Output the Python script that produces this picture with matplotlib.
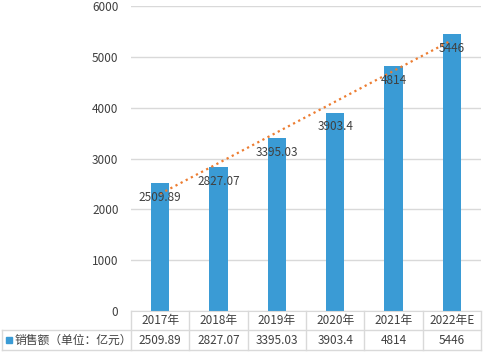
import matplotlib
matplotlib.use("Agg")
import matplotlib.pyplot as plt
import numpy as np

plt.rcParams['font.family'] = ['Noto Sans CJK SC', 'DejaVu Sans']

years = ['2017年', '2018年', '2019年', '2020年', '2021年', '2022年E']
sales = [2509.89, 2827.07, 3395.03, 3903.4, 4814, 5446]
value_text = ['2509.89', '2827.07', '3395.03', '3903.4', '4814', '5446']
series_name = '销售额（单位：亿元）'

bar_color = '#3A9BD5'
grid_color = '#D9D9D9'
text_color = '#404040'

W, H = 484, 353
fig = plt.figure(figsize=(W / 100, H / 100), dpi=100)

# plot area in pixels
left, right, top, bottom = 131, 481, 6, 311
ax = fig.add_axes([left / W, 1 - bottom / H, (right - left) / W, (bottom - top) / H])

x = np.arange(len(years))
ax.bar(x, sales, width=0.31, color=bar_color, zorder=2)

# linear trendline like excel
k, b = np.polyfit(x, sales, 1)
ax.plot(x, k * x + b, color='#ED7D31', linestyle=(0, (1, 1.6)), linewidth=1.6, zorder=3)

for i, v in enumerate(sales):
    ax.annotate(value_text[i], (x[i], v), xytext=(0, -10), textcoords='offset points',
                ha='center', va='center', fontsize=8.5, color=text_color, zorder=4)

ax.set_xlim(-0.5, len(years) - 0.5)
ax.set_ylim(0, 6000)
ax.set_yticks(range(0, 6001, 1000))
ax.tick_params(axis='y', length=0, labelsize=8.5, labelcolor=text_color, pad=9)
ax.set_xticks([])
ax.grid(axis='y', color=grid_color, linewidth=1, zorder=0)
for s in ['left', 'right', 'top']:
    ax.spines[s].set_visible(False)
ax.spines['bottom'].set_color(grid_color)

# data table under the chart
def fx(px):
    return px / W

def fy(py):
    return 1 - py / H

row1, row2, row3 = 311, 330, 350
cell_w = (right - left) / len(years)
line_kw = dict(color=grid_color, linewidth=1)
fig.add_artist(plt.Line2D([fx(2), fx(right)], [fy(row2), fy(row2)], **line_kw))
fig.add_artist(plt.Line2D([fx(2), fx(right)], [fy(row3), fy(row3)], **line_kw))
fig.add_artist(plt.Line2D([fx(2), fx(2)], [fy(row2), fy(row3)], **line_kw))
for i in range(len(years) + 1):
    xp = left + i * cell_w
    fig.add_artist(plt.Line2D([fx(xp), fx(xp)], [fy(row1), fy(row3)], **line_kw))

for i, yr in enumerate(years):
    xc = left + (i + 0.5) * cell_w
    fig.text(fx(xc), fy((row1 + row2) / 2), yr, ha='center', va='center', fontsize=8.5, color=text_color)
    fig.text(fx(xc), fy((row2 + row3) / 2), value_text[i], ha='center', va='center', fontsize=8.5, color=text_color)

fig.add_artist(plt.Rectangle((fx(6), fy(343)), 6 / W, 6 / H, color=bar_color))
fig.text(fx(15), fy((row2 + row3) / 2), series_name, ha='left', va='center', fontsize=8.5, color=text_color)

fig.savefig('out.png', dpi=100)
